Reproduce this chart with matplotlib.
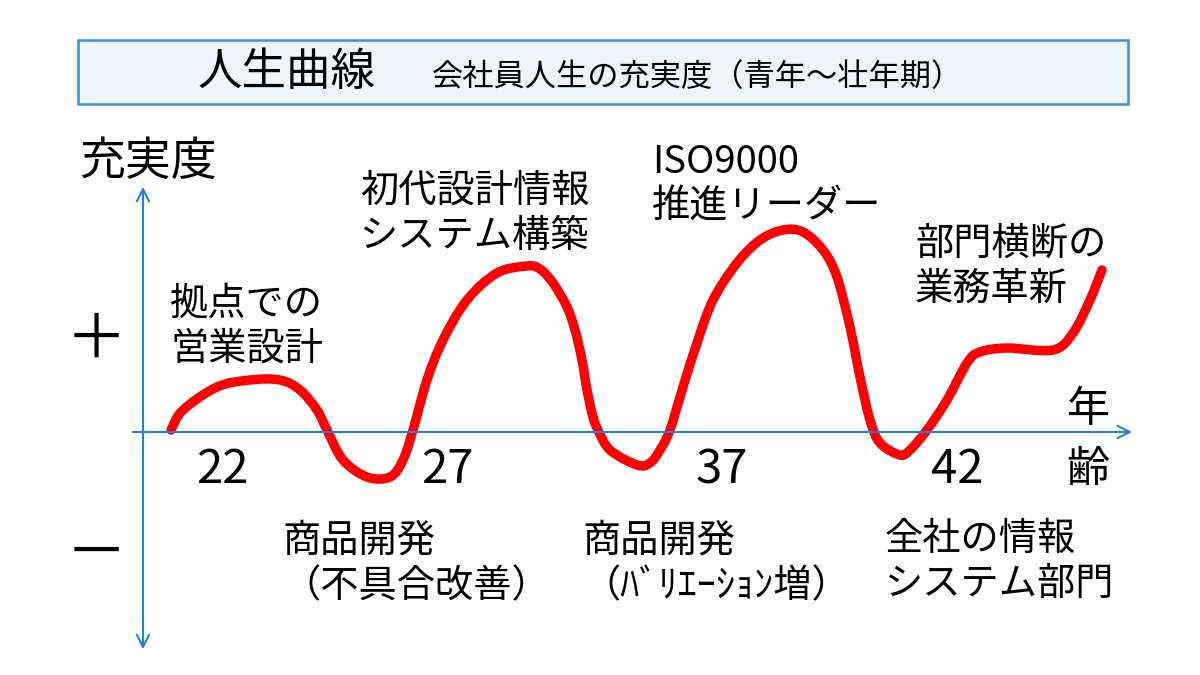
import matplotlib
matplotlib.use("Agg")
import matplotlib.pyplot as plt
import numpy as np
from matplotlib.patches import Rectangle, PathPatch
from matplotlib.path import Path

plt.rcParams['font.family'] = ['Noto Sans CJK JP', 'DejaVu Sans']

# 人生曲線の点（横: 時間軸の位置, 縦: 充実度）
pos = [2.8, 4.0, 7.4, 10.7, 13.7, 15.7, 17.4, 18.4, 20.0, 22.4, 24.7, 26.0, 27.0,
       28.4, 30.0, 32.4, 35.4, 38.4, 39.7, 41.0, 42.4, 43.2, 43.9, 44.4, 45.0,
       45.5, 46.7, 49.4, 50.7, 51.7, 52.7, 54.0, 55.4, 57.0, 59.4, 61.7, 64.0,
       66.0, 68.0, 69.4, 70.7, 71.7, 72.7, 73.7, 75.7, 76.7, 78.4, 80.4, 82.4,
       83.7, 86.4, 91.0, 93.0, 94.7, 95.9]
score = [1, 11, 22.5, 26, 26, 21, 11, 1, -14, -22.5, -22.5, -14, 1,
         26, 46, 66, 79.5, 83, 81.5, 74.5, 62.5, 51, 36, 21, 7.5,
         1, -9, -16.5, -15.5, -9, 1, 22.5, 44.5, 66, 84.5, 96, 101,
         100, 91, 77.5, 52.5, 27.5, 6, -5.5, -11.5, -9, 1, 16, 34.5,
         40, 42, 41, 49.5, 66, 81]

age_labels = ['22', '27', '37', '42']
age_pos = [7.9, 30.4, 57.9, 81.4]

events = ['拠点での\n営業設計', '初代設計情報\nシステム構築', 'ISO9000\n推進リーダー',
          '部門横断の\n業務革新', '商品開発\n（不具合改善）', '商品開発\n（ﾊﾞﾘｴｰｼｮﾝ増）',
          '全社の情報\nシステム部門']
event_x = [2.7, 21.7, 50.9, 77.2, 13.9, 43.9, 74.2]
event_y = [73.5, 130, 144.5, 103.5, -45, -45, -44]

blue = '#1f80ea'
red = '#ff0000'


def smooth_path(xs, ys):
    # 点を通るベジェ曲線（Catmull-Rom の制御点）
    p = np.column_stack([xs, ys])
    ext = np.vstack([p[0], p, p[-1]])
    verts = [p[0]]
    codes = [Path.MOVETO]
    for i in range(1, len(ext) - 2):
        c1 = ext[i] + (ext[i + 1] - ext[i - 1]) / 6
        c2 = ext[i + 1] - (ext[i + 2] - ext[i]) / 6
        verts += [c1, c2, ext[i + 1]]
        codes += [Path.CURVE4] * 3
    return Path(verts, codes)


fig = plt.figure(figsize=(12, 6.75), dpi=100)
ax = fig.add_axes([0, 0, 1, 1])
ax.set_xlim(-14.3, 105.7)
ax.set_ylim(-121.5, 216)
ax.axis('off')

# タイトル枠
fig.patches.append(Rectangle((0.065, 0.846), 0.875, 0.095, transform=fig.transFigure,
                             facecolor='#eef5fd', edgecolor='#3b8ee8', lw=1.8))
fig.text(0.239, 0.893, '人生曲線', fontsize=32, ha='center', va='center')
fig.text(0.36, 0.886, '会社員人生の充実度（青年～壮年期）', fontsize=22.5, ha='left', va='center')

# 軸
ax.annotate('', xy=(0.0, 124), xytext=(0.0, -110),
            arrowprops=dict(arrowstyle='<->', color=blue, lw=1.5, mutation_scale=22))
ax.annotate('', xy=(99.2, 0), xytext=(-1.3, 0),
            arrowprops=dict(arrowstyle='->', color=blue, lw=1.5, mutation_scale=22))

ax.text(-6.4, 135, '充実度', fontsize=33, ha='left', va='center')
ax.text(-4.7, 46, '＋', fontsize=44, ha='center', va='center')
ax.text(-4.7, -61.5, '－', fontsize=44, ha='center', va='center')
ax.text(94.5, 11, '年', fontsize=31, ha='center', va='center')
ax.text(94.5, -19, '齢', fontsize=31, ha='center', va='center')

for lab, x in zip(age_labels, age_pos):
    ax.text(x, -19, lab, fontsize=34, ha='center', va='center')

for txt, x, y in zip(events, event_x, event_y):
    ax.text(x, y, txt, fontsize=27.5, ha='left', va='top', linespacing=1.2)

ax.add_patch(PathPatch(smooth_path(pos, score), fill=False, edgecolor=red, lw=6.8,
                       capstyle='round', joinstyle='round'))

fig.savefig('out.png', dpi=100)
